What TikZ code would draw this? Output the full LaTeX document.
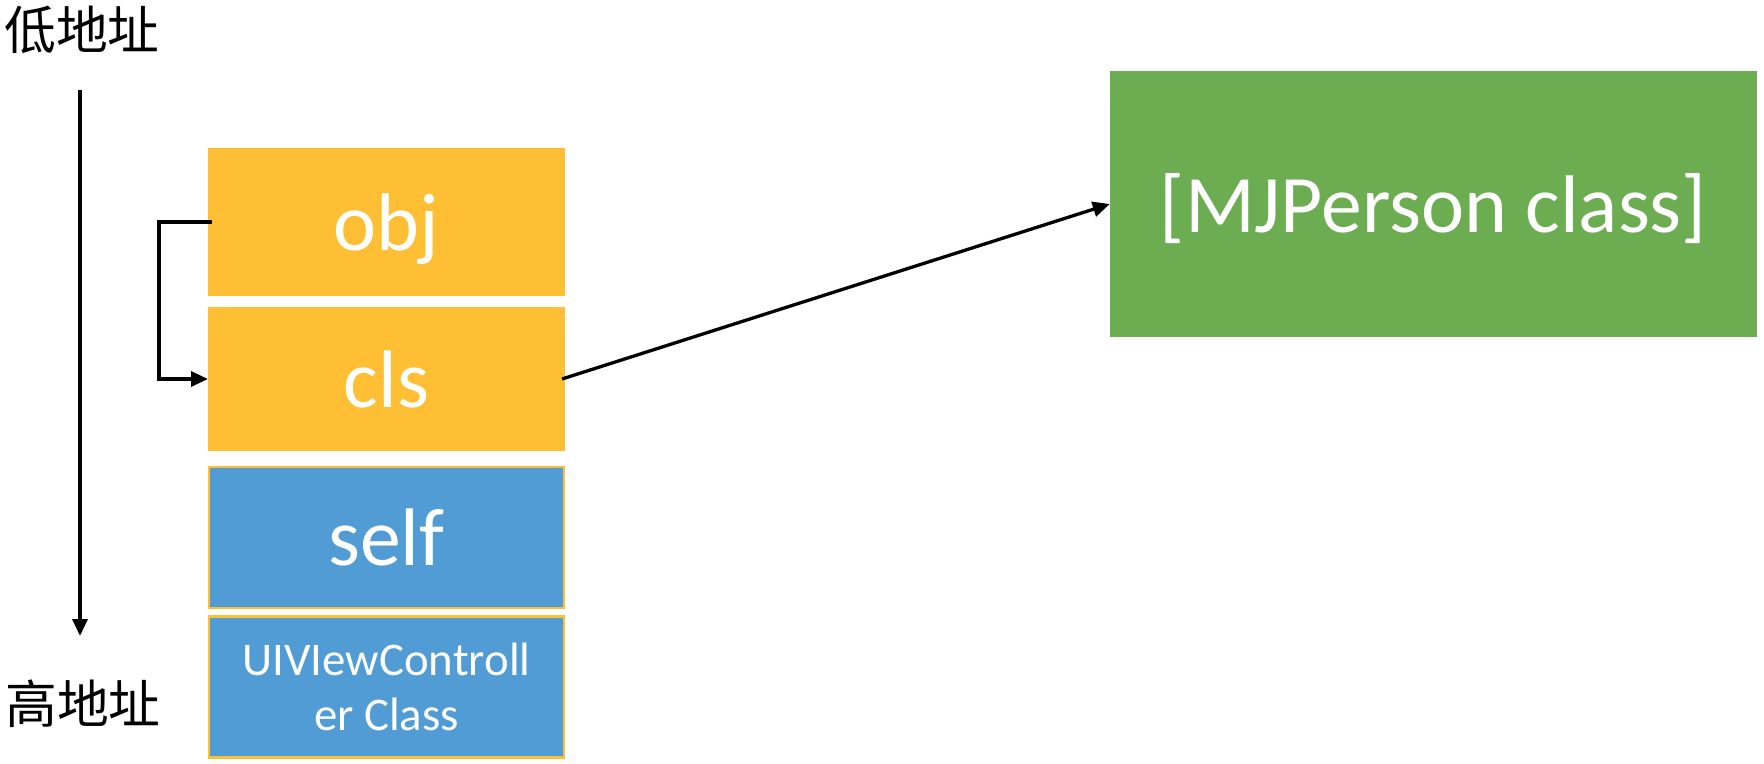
\documentclass[tikz,border=0pt]{standalone}
\usepackage{fontspec}
\setmainfont{Carlito}
\newfontfamily\cjk{Noto Sans CJK SC}
\usetikzlibrary{arrows.meta}
\definecolor{slotorange}{HTML}{FFBF34}
\definecolor{slotblue}{HTML}{519CD4}
\definecolor{classgreen}{HTML}{6BAD50}
\tikzset{
  bigtext/.style={text=white, font=\fontsize{82}{82}\selectfont, text height=60bp, text depth=4bp},
  slot/.style={fill=slotorange, draw=none, minimum width=357bp, inner sep=0pt, outer sep=0pt, bigtext},
  blueslot/.style={fill=slotblue, draw=slotorange, line width=2.5bp, minimum width=355bp, inner sep=0pt, outer sep=0pt,
    text=white, align=center},
  classbox/.style={fill=classgreen, draw=none, minimum width=647bp, minimum height=266bp, inner sep=0pt, bigtext},
  addr/.style={font=\cjk\fontsize{52}{52}\selectfont, inner sep=0pt},
  conn/.style={line width=3.3bp, -{Triangle[length=17bp,width=15bp]}},
}
\begin{document}
\begin{tikzpicture}[x=1bp,y=-1bp]
\useasboundingbox (0,0) rectangle (1764,764);
\node[addr] (low) at (82,30) {低地址};
\node[addr] (high) at (83,704) {高地址};
\coordinate (atop) at (80,90);
\coordinate (abot) at (80,636);
\draw[conn] (atop) -- (abot);

\node[slot, minimum height=148bp] (obj) at (386.5,222) {obj};
\node[slot, minimum height=144bp] (cls) at (386.5,379) {cls};
\node[blueslot, minimum height=141bp, bigtext] (self) at (386.5,537.5) {self};
\node[blueslot, minimum height=141bp, font=\fontsize{47}{56}\selectfont] (vc) at (386.5,687) {UIVIewControll\\er Class};

\node[classbox] (mj) at (1433.5,204) {[MJPerson class]};

\draw[conn] ([xshift=4bp]obj.west) -- ++(-53,0) |- (cls.west);
\draw[conn] ([xshift=-3bp]cls.east) -- (mj.west);
\end{tikzpicture}
\end{document}
